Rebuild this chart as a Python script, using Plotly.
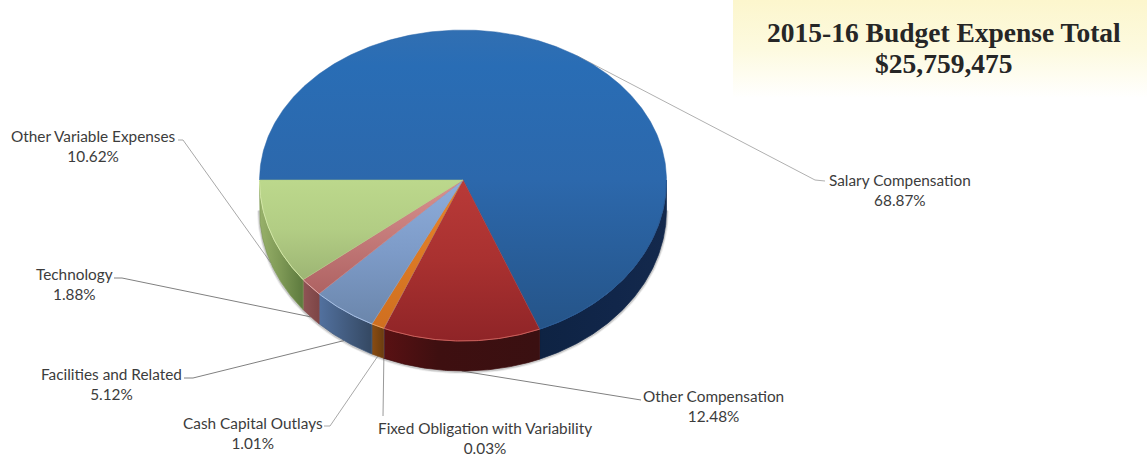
import numpy as np
import plotly.graph_objects as go

# ---- data ----
categories = ["Salary Compensation", "Other Compensation", "Fixed Obligation with Variability",
              "Cash Capital Outlays", "Facilities and Related", "Technology", "Other Variable Expenses"]
shares = [68.87, 12.48, 0.03, 1.01, 5.12, 1.88, 10.62]
title_lines = ["2015-16 Budget Expense Total", "$25,759,475"]

# ---- style: colours of each slice (top gradient, side gradient) ----
top_colors = [
    [[0, "#316fb2"], [0.12, "#296db5"], [0.5, "#2c68ac"], [1, "#255488"]],
    [[0, "#b93a38"], [0.5, "#a93130"], [1, "#8f2427"]],
    [[0, "#8064a2"], [1, "#6a5388"]],
    [[0, "#e8842a"], [1, "#cf6f20"]],
    [[0, "#8eadda"], [0.5, "#7d9bc8"], [1, "#6b86ab"]],
    [[0, "#d99290"], [1, "#ae6262"]],
    [[0, "#bcd88c"], [0.5, "#b2cd84"], [1, "#9db574"]],
]
top_edge = ["#2c66a8", "#a93130", "#755b95", "#dc7925", "#7d9bc8", "#c47a79", "#b2cd84"]
side_colors = [
    [[0, "#0e2343"], [0.6, "#11264a"], [1, "#14294c"]],
    [[0, "#591113"], [0.35, "#3e0f10"], [1, "#3a1011"]],
    [[0, "#4f3d66"], [1, "#4f3d66"]],
    [[0, "#8a4c12"], [1, "#6b3d10"]],
    [[0, "#52719f"], [1, "#344862"]],
    [[0, "#8f5455"], [1, "#7d4546"]],
    [[0, "#98b16a"], [0.5, "#7d9855"], [1, "#5d7a3e"]],
]
side_edge = ["#11264a", "#3e0f10", "#4f3d66", "#7a4511", "#435c80", "#864c4d", "#7d9855"]
rim_colors = ["#2a5a94", "#c9605c", "#8064a2", "#e8a060", "#a8c0e4", "#e4aeac", "#d4e8a8"]
band_colors = [[0, "#fcf6cd"], [0.5, "#fdfadf"], [1, "#ffffff"]]

# ---- style: pie geometry in pixels ----
W, H = 1147, 457
CX, CY = 463, 180
RX, RY_BACK, RY_FRONT = 203.5, 150, 161
DEPTH = 30


def down(scale):
    """Vertical gradients run against the reversed pixel axis, so flip the stops."""
    return [[1 - s, c] for s, c in reversed(scale)]


def rim(theta_deg, drop=0.0):
    """theta is clockwise from the 9 o'clock direction."""
    t = np.radians(theta_deg)
    x = CX - RX * np.cos(t)
    s = np.sin(t)
    y = CY - np.where(s > 0, RY_BACK, RY_FRONT) * s + drop
    return x, y


def arc(a, b, drop=0.0):
    n = max(2, int(abs(b - a)) * 2 + 2)
    return rim(np.linspace(a, b, n), drop)


total = sum(shares)
edges = np.concatenate([[0], np.cumsum(shares)]) / total * 360
mids = (edges[:-1] + edges[1:]) / 2

fig = go.Figure()

# title band
band_x, band_y = [733, W, W, 733, 733], [0, 0, 98, 98, 0]
fig.add_trace(go.Scatter(
    x=band_x, y=band_y, mode="lines", line=dict(width=0), fill="toself", hoverinfo="skip",
    fillgradient=dict(type="vertical", colorscale=down(band_colors)),
))

# leader lines: pie end from the slice middle, then elbow and label end
elbows = [[(815, 180), (825, 181)], [(637, 400), (641, 400)], [(383, 416)],
          [(330, 426), (324, 426)], [(193, 378), (184, 378)], [(122, 278), (114, 278)],
          [(183, 140), (178, 140)]]
leader_colors = ["#b0b0b0", "#808080", "#999999", "#a8a8a8", "#808080", "#808080", "#a8a8a8"]
for m, e, c in zip(mids, elbows, leader_colors):
    px, py = rim(m, DEPTH if np.sin(np.radians(m)) < 0 else 0)
    fig.add_trace(go.Scatter(x=[float(px)] + [p[0] for p in e], y=[float(py)] + [p[1] for p in e],
                             mode="lines", line=dict(color=c, width=1), hoverinfo="skip"))

# soft shadow below the side wall
for w, c in [(5, "rgba(90,90,90,0.10)"), (3, "rgba(80,80,80,0.22)")]:
    sx, sy = arc(180, 360, DEPTH + 0.5)
    fig.add_trace(go.Scatter(x=sx, y=sy, mode="lines", line=dict(color=c, width=w), hoverinfo="skip"))

# side walls (only the front half is visible)
for i in range(len(shares)):
    a, b = max(edges[i], 180), edges[i + 1]
    if b <= a:
        continue
    x0, y0 = arc(a, b)
    x1, y1 = arc(b, a, DEPTH)
    fig.add_trace(go.Scatter(
        x=np.r_[x0, x1, x0[0]], y=np.r_[y0, y1, y0[0]], mode="lines",
        line=dict(width=0.7, color=side_edge[i]),
        fill="toself", hoverinfo="skip",
        fillgradient=dict(type="horizontal", colorscale=side_colors[i]),
    ))

# top faces
for i in range(len(shares)):
    x0, y0 = arc(edges[i], edges[i + 1])
    fig.add_trace(go.Scatter(
        x=np.r_[CX, x0, CX], y=np.r_[CY, y0, CY], mode="lines",
        line=dict(width=0.5, color=top_edge[i]),
        fill="toself", name=categories[i], hoverinfo="skip",
        fillgradient=dict(type="vertical", colorscale=down(top_colors[i])),
    ))

# light rim on the front edge of the top face
for i in range(len(shares)):
    a, b = max(edges[i], 180), edges[i + 1]
    if b <= a:
        continue
    x0, y0 = arc(a, b)
    fig.add_trace(go.Scatter(x=x0, y=y0, mode="lines", line=dict(color=rim_colors[i], width=1), hoverinfo="skip"))

# labels
label_centers = [(900, 190), (713, 406), (485, 438), (252.5, 433),
                 (111.5, 384), (74, 284), (93.5, 146)]
annotations = [
    dict(x=p[0], y=p[1], xref="x", yref="y", showarrow=False, align="center",
         text=f"{c}<br>{v:.2f}%", font=dict(family="Lato", size=15.35, color="#3c3c3c"))
    for c, v, p in zip(categories, shares, label_centers)
]
for line, y in zip(title_lines, [32, 63]):
    annotations.append(dict(x=944, y=y, xref="x", yref="y", showarrow=False, align="center",
                            text=f"<b>{line}</b>",
                            font=dict(family="Liberation Serif", size=27.5, color="#262626")))

fig.update_layout(
    width=W, height=H, margin=dict(l=0, r=0, t=0, b=0), showlegend=False,
    paper_bgcolor="white", plot_bgcolor="white", annotations=annotations,
    xaxis=dict(range=[0, W], visible=False, fixedrange=True),
    yaxis=dict(range=[H, 0], visible=False, fixedrange=True),
)
fig.write_html("out.html", config=dict(displayModeBar=False),
               post_script="document.body.style.margin='0';document.body.style.overflow='hidden';")
